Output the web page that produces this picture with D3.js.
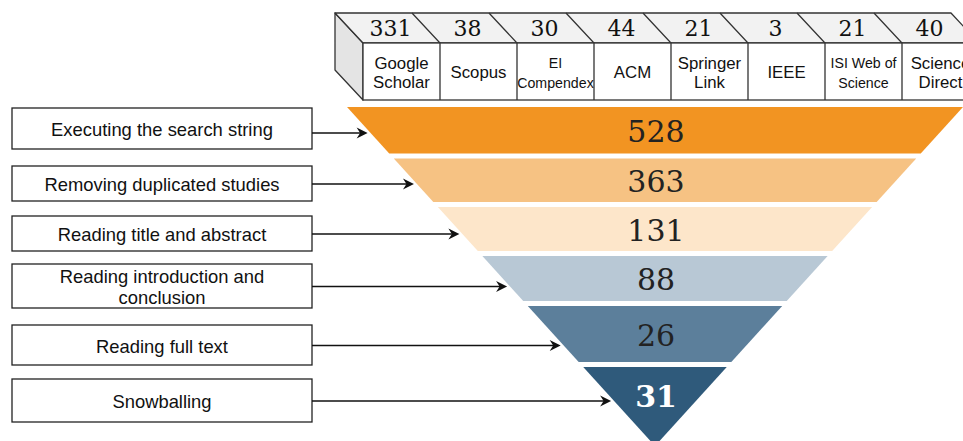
<!DOCTYPE html>
<html><head><meta charset="utf-8">
<script src="https://cdn.jsdelivr.net/npm/d3@7/dist/d3.min.js"></script>
<style>
html,body{margin:0;padding:0;background:#fff;}
svg{display:block;}
</style></head>
<body>
<svg id="chart" width="963" height="441"></svg>
<script>
// ---------- data ----------
const stages = ["Executing the search string", "Removing duplicated studies", "Reading title and abstract", "Reading introduction and conclusion", "Reading full text", "Snowballing"];
const stageLines = [["Executing the search string"], ["Removing duplicated studies"], ["Reading title and abstract"], ["Reading introduction and", "conclusion"], ["Reading full text"], ["Snowballing"]];
const stageCounts = [528, 363, 131, 88, 26, 31];
const databases = ["Google Scholar", "Scopus", "EI Compendex", "ACM", "Springer Link", "IEEE", "ISI Web of Science", "Science Direct"];
const databaseLines = [["Google", "Scholar"], ["Scopus"], ["EI", "Compendex"], ["ACM"], ["Springer", "Link"], ["IEEE"], ["ISI Web of", "Science"], ["Science", "Direct"]];
const databaseCounts = [331, 38, 30, 44, 21, 3, 21, 40];

// ---------- styles ----------
const stageColors = ["#F29422", "#F6C283", "#FDE6CA", "#B8C8D5", "#5C7F9B", "#2F5A7B"];
const smallLabelDbs = ["EI Compendex", "ISI Web of Science"];
const serif = "Georgia, 'DejaVu Serif', serif";
const sans = "'Liberation Sans', Arial, Helvetica, sans-serif";

const svg = d3.select("#chart");

// ---------- database box (3D) ----------
const dx = 28, dy = 30;          // depth offset of the box
const frontTop = 43, frontBottom = 100;
const xDb = d3.scaleBand().domain(databases).range([363, 979]);
const boxLeft = xDb.range()[0], boxRight = xDb.range()[1];

// left side face
svg.append("path")
  .attr("d", `M${boxLeft},${frontTop} L${boxLeft - dx},${frontTop - dy} L${boxLeft - dx},${frontBottom - dy} L${boxLeft},${frontBottom} Z`)
  .attr("fill", "#E4E4E4").attr("stroke", "#333").attr("stroke-width", 1.3).attr("stroke-linejoin", "round");
// top face
svg.append("path")
  .attr("d", `M${boxLeft},${frontTop} L${boxLeft - dx},${frontTop - dy} L${boxRight - dx},${frontTop - dy} L${boxRight},${frontTop} Z`)
  .attr("fill", "#F2F2F2").attr("stroke", "#333").attr("stroke-width", 1.3).attr("stroke-linejoin", "round");
// front face
svg.append("rect")
  .attr("x", boxLeft).attr("y", frontTop).attr("width", boxRight - boxLeft).attr("height", frontBottom - frontTop)
  .attr("fill", "#fff").attr("stroke", "#333").attr("stroke-width", 1.3);

const cells = svg.append("g").selectAll("g").data(databases).join("g");
// separators
cells.filter((d, i) => i > 0).append("path")
  .attr("d", d => { const x = xDb(d); return `M${x - dx},${frontTop - dy} L${x},${frontTop} L${x},${frontBottom}`; })
  .attr("fill", "none").attr("stroke", "#333").attr("stroke-width", 1.3);
// counts on top face
cells.append("text")
  .attr("x", d => xDb(d) + xDb.bandwidth() / 2 - 11)
  .attr("y", 36)
  .attr("text-anchor", "middle")
  .attr("font-family", serif).attr("font-size", 22).attr("fill", "#111")
  .text((d, i) => databaseCounts[i]);
// labels on front face
cells.each(function (d, i) {
  const lines = databaseLines[i];
  const small = smallLabelDbs.includes(d);
  const fs = small ? 14.2 : 16.8;
  const lh = small ? 20 : 19;
  const cy = (frontTop + frontBottom) / 2 + 1;
  d3.select(this).selectAll("text.lbl").data(lines).join("text")
    .attr("class", "lbl")
    .attr("x", xDb(d) + xDb.bandwidth() / 2)
    .attr("y", (l, j) => cy + (j - (lines.length - 1) / 2) * lh)
    .attr("dominant-baseline", "central")
    .attr("text-anchor", "middle")
    .attr("font-family", sans).attr("font-size", fs).attr("fill", "#111")
    .text(l => l);
});

// ---------- funnel ----------
const funnelCx = 655, funnelTop = 107, apexY = 446, topHalfWidth = 308;
const halfW = d3.scaleLinear().domain([funnelTop, apexY]).range([topHalfWidth, 0]);
const yEdge = d3.scaleLinear().domain([0, 1, 2, 3, 4, 5, 6]).range([107, 156, 204.5, 253.5, 303.5, 364.5, 446]);
const gap = 2.5;
const bands = stages.map((s, i) => {
  const top = yEdge(i) + (i > 0 ? gap : 0);
  const bottom = i < stages.length - 1 ? yEdge(i + 1) - gap : yEdge(i + 1);
  return { stage: s, i, top, bottom };
});

svg.append("g").selectAll("path").data(bands).join("path")
  .attr("d", b => `M${funnelCx - halfW(b.top)},${b.top} L${funnelCx + halfW(b.top)},${b.top} L${funnelCx + halfW(b.bottom)},${b.bottom} L${funnelCx - halfW(b.bottom)},${b.bottom} Z`)
  .attr("fill", b => stageColors[b.i]);

svg.append("g").selectAll("text").data(bands).join("text")
  .attr("x", funnelCx + 1)
  .attr("y", b => Math.min((b.top + b.bottom) / 2, b.top + 28) + 1)
  .attr("dominant-baseline", "central")
  .attr("text-anchor", "middle")
  .attr("font-family", serif).attr("font-size", 30)
  .attr("font-weight", b => b.i === stages.length - 1 ? "bold" : "normal")
  .attr("fill", b => b.i === stages.length - 1 ? "#fff" : "#222")
  .text(b => stageCounts[b.i]);

// ---------- stage boxes ----------
const boxX0 = 12, boxX1 = 312;
const yBox = d3.scaleLinear().domain([0, 1, 2, 3, 4, 5]).range([128.5, 183.5, 233.5, 286, 345, 400.5]);
const boxH = i => stageLines[i].length > 1 ? 44 : (i === 0 ? 41 : (i === 4 ? 40 : (i === 5 ? 43 : 35)));

const sg = svg.append("g").selectAll("g").data(stages).join("g");
sg.append("rect")
  .attr("x", boxX0).attr("width", boxX1 - boxX0)
  .attr("y", (d, i) => yBox(i) - boxH(i) / 2)
  .attr("height", (d, i) => boxH(i))
  .attr("fill", "#fff").attr("stroke", "#222").attr("stroke-width", 1.3);
sg.each(function (d, i) {
  const lines = stageLines[i];
  d3.select(this).selectAll("text").data(lines).join("text")
    .attr("x", (boxX0 + boxX1) / 2)
    .attr("y", (l, j) => yBox(i) + (j - (lines.length - 1) / 2) * 21 + 1)
    .attr("dominant-baseline", "central")
    .attr("text-anchor", "middle")
    .attr("font-family", sans).attr("font-size", 18.4).attr("fill", "#111")
    .text(l => l);
});

// arrows
const arrowY = i => yBox(i) + (i === 0 ? 4.5 : 0.5);
sg.each(function (d, i) {
  const y = arrowY(i);
  const tip = funnelCx - halfW(y) - 3;
  const g = d3.select(this);
  g.append("line").attr("x1", boxX1).attr("x2", tip - 6).attr("y1", y).attr("y2", y)
    .attr("stroke", "#111").attr("stroke-width", 1.3);
  g.append("path")
    .attr("d", `M${tip},${y} L${tip - 11},${y - 5.5} L${tip - 7.5},${y} L${tip - 11},${y + 5.5} Z`)
    .attr("fill", "#111");
});
</script>
</body></html>
